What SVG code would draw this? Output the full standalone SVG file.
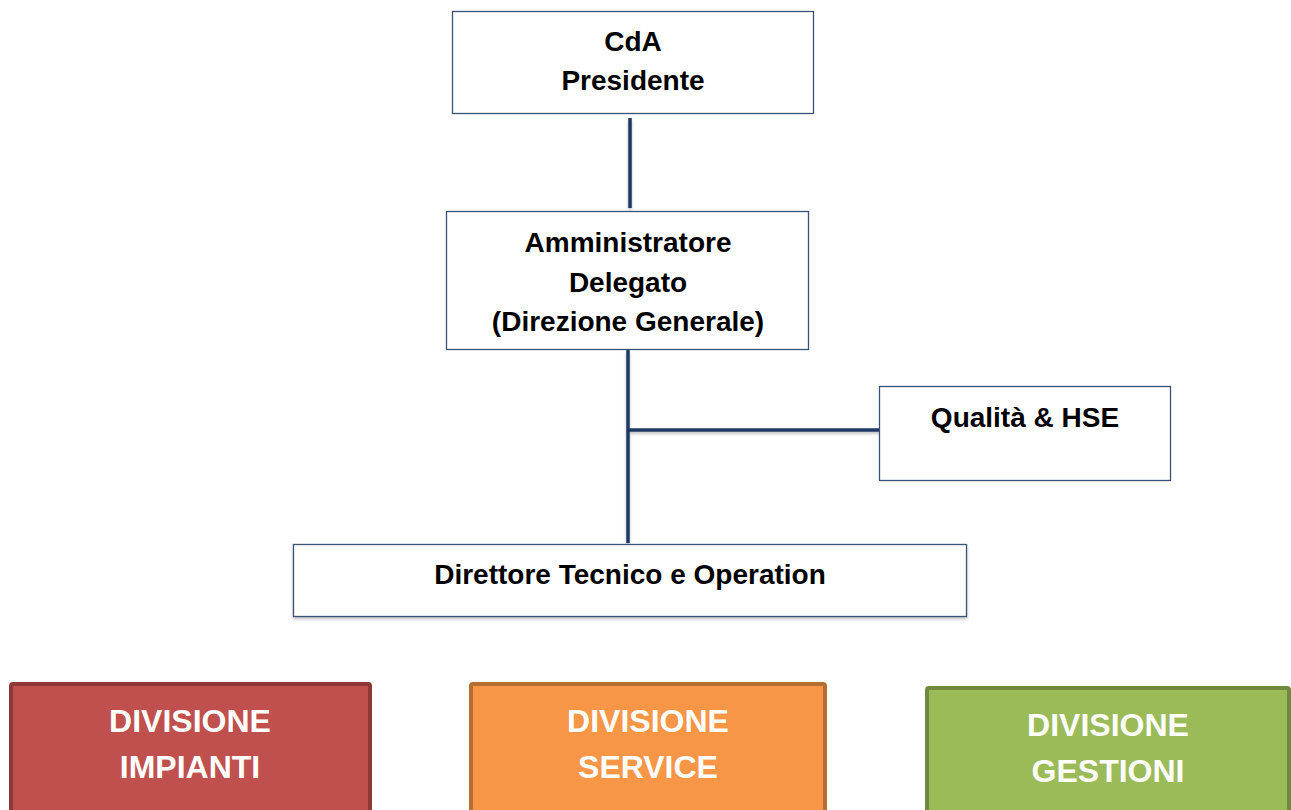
<svg xmlns="http://www.w3.org/2000/svg" width="1291" height="810" viewBox="0 0 1291 810">
  <defs>
    <filter id="sh" x="-5%" y="-5%" width="110%" height="120%">
      <feDropShadow dx="0" dy="2" stdDeviation="1.5" flood-color="#000" flood-opacity="0.25"/>
    </filter>
    <style>
      .box { fill: #ffffff; stroke: #3a5275; stroke-width: 1.3; }
      .t { font-family: "Liberation Sans", Arial, sans-serif; font-weight: bold; font-size: 28px; fill: #000; text-anchor: middle; }
      .dt { font-family: "Liberation Sans", Arial, sans-serif; font-weight: bold; font-size: 32px; fill: #ffffff; text-anchor: middle; }
      .conn { stroke: #1f3864; stroke-width: 3.5; fill: none; }
    </style>
  </defs>
  <rect width="1291" height="810" fill="#ffffff"/>

  <g id="connectors" filter="url(#sh)">
    <line class="conn" x1="630" y1="118" x2="630" y2="208"/>
    <line class="conn" x1="628" y1="350" x2="628" y2="543"/>
    <line class="conn" x1="628" y1="430" x2="880" y2="430"/>
  </g>

  <g id="cda">
    <rect class="box" x="452.5" y="11.5" width="361" height="102"/>
    <text class="t" x="633" y="51">CdA</text>
    <text class="t" x="633" y="90">Presidente</text>
  </g>

  <g id="ad">
    <rect class="box" x="446.5" y="211.5" width="362" height="138"/>
    <text class="t" x="628" y="252">Amministratore</text>
    <text class="t" x="628" y="292">Delegato</text>
    <text class="t" x="628" y="331">(Direzione Generale)</text>
  </g>

  <g id="qualita">
    <rect class="box" x="879.5" y="386.5" width="291" height="94"/>
    <text class="t" x="1025" y="427">Qualità &amp; HSE</text>
  </g>

  <g id="direttore">
    <rect class="box" x="293.5" y="544.5" width="673" height="72" filter="url(#sh)"/>
    <text class="t" x="630" y="584">Direttore Tecnico e Operation</text>
  </g>

  <g id="div-impianti">
    <rect x="11" y="684" width="359" height="140" rx="2" fill="#c0504d" stroke="#8c3836" stroke-width="4"/>
    <text class="dt" x="190" y="732">DIVISIONE</text>
    <text class="dt" x="190" y="778">IMPIANTI</text>
  </g>

  <g id="div-service">
    <rect x="471" y="684" width="354" height="140" rx="2" fill="#f79646" stroke="#b66d31" stroke-width="4"/>
    <text class="dt" x="648" y="732">DIVISIONE</text>
    <text class="dt" x="648" y="778">SERVICE</text>
  </g>

  <g id="div-gestioni">
    <rect x="927" y="688" width="362" height="140" rx="2" fill="#9bbb59" stroke="#71893f" stroke-width="4"/>
    <text class="dt" x="1108" y="736">DIVISIONE</text>
    <text class="dt" x="1108" y="782">GESTIONI</text>
  </g>
</svg>
